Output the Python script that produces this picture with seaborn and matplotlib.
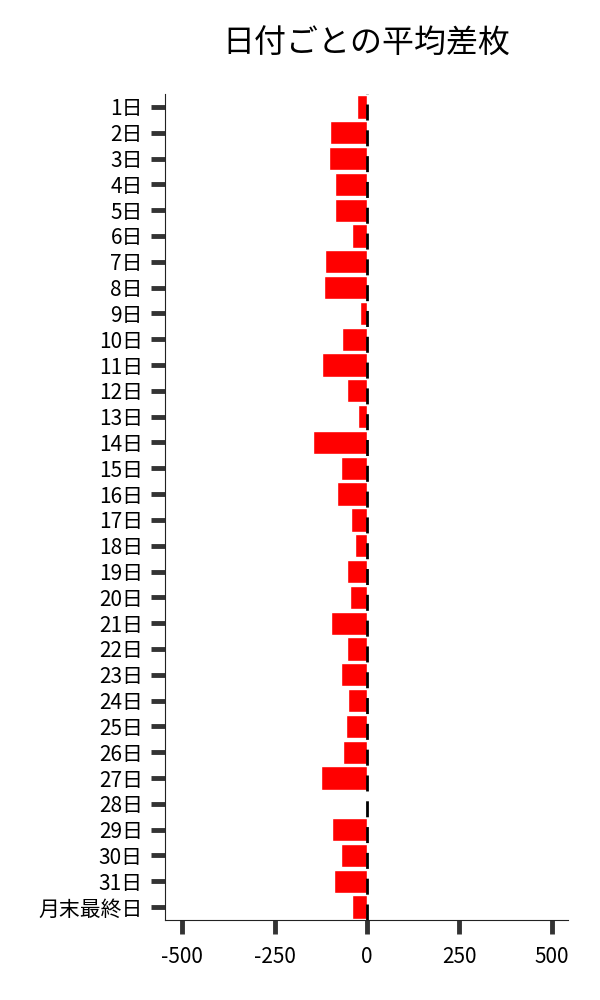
import pandas as pd
import matplotlib
matplotlib.use("Agg")
import matplotlib.pyplot as plt
import seaborn as sns

# day labels and average差枚 per day
days = [f"{i}日" for i in range(1, 32)] + ["月末最終日"]
avg_diff = [-27, -100, -103, -87, -87, -41, -114, -117, -19, -68,
            -122, -54, -24, -146, -70, -81, -43, -33, -54, -46,
            -98, -54, -70, -51, -57, -65, -125, -1, -95, -70,
            -89, -41]
x_ticks = [-500, -250, 0, 250, 500]

df = pd.DataFrame({"day": days, "diff": avg_diff})

sns.set_style("ticks")
plt.rcParams["font.family"] = ["Noto Sans CJK JP", "DejaVu Sans"]

fig, ax = plt.subplots(figsize=(6, 10), dpi=100)
fig.subplots_adjust(left=0.275, right=0.947, top=0.906, bottom=0.08)

sns.barplot(data=df, x="diff", y="day", orient="h", color="red",
            saturation=1, width=0.9, errorbar=None, ax=ax)

# dashed zero line
ax.axvline(0, color="black", lw=2, linestyle=(0, (5.76, 3.53)))

ax.set_xlim(-547, 545)
ax.set_xticks(x_ticks)
ax.set_xticklabels([str(v) for v in x_ticks])
ax.set_xlabel("")
ax.set_ylabel("")
ax.tick_params(axis="both", length=10, width=3.5, color="#333333",
               labelsize=15, labelcolor="black")
ax.tick_params(axis="x", pad=9)
ax.tick_params(axis="y", pad=6)
for s in ["left", "bottom"]:
    ax.spines[s].set_linewidth(0.8)
    ax.spines[s].set_color("#222222")
sns.despine(ax=ax)

ax.set_title("日付ごとの平均差枚", fontsize=23, pad=30, color="black")

fig.savefig("out.png", dpi=100)
